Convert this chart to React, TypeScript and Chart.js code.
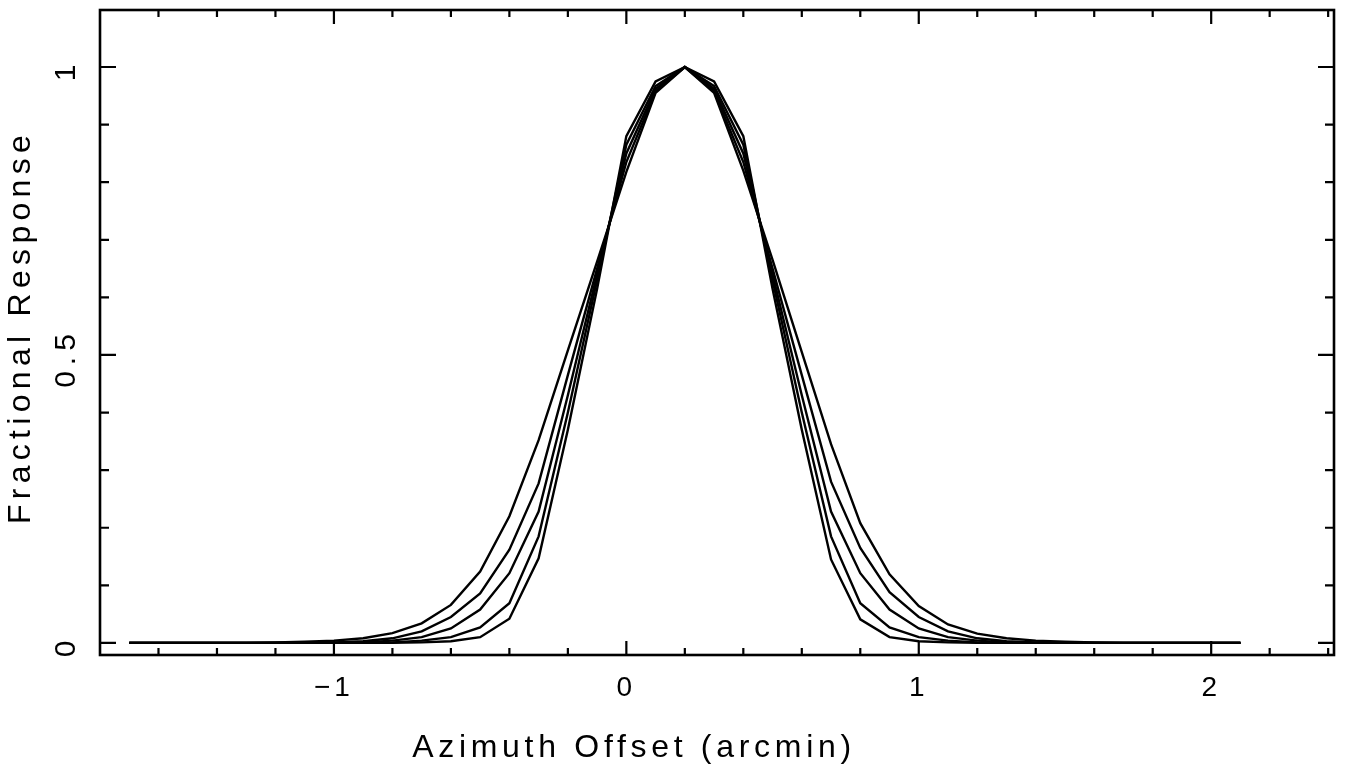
import React, { useEffect, useRef } from "react";
import { Chart, registerables } from "chart.js";

Chart.register(...registerables);

// Sample positions along azimuth (arcmin)
const azimuth = [
  -1.7, -1.6, -1.5, -1.4, -1.3, -1.2, -1.1, -1.0, -0.9, -0.8, -0.7, -0.6, -0.5,
  -0.4, -0.3, -0.2, -0.1, 0.0, 0.1, 0.2, 0.3, 0.4, 0.5, 0.6, 0.7, 0.8, 0.9, 1.0,
  1.1, 1.2, 1.3, 1.4, 1.5, 1.6, 1.7, 1.8, 1.9, 2.0, 2.1,
];

// Five beam response curves (widest to narrowest)
const responseA = [
  0, 0, 0, 0, 0, 0.001, 0.002, 0.004, 0.008, 0.017, 0.034, 0.066, 0.124,
  0.22, 0.352, 0.508, 0.662, 0.818, 0.955, 1.0, 0.955, 0.82, 0.665, 0.505, 0.345, 0.208, 0.119, 0.064,
  0.032, 0.016, 0.008, 0.004, 0.002, 0.001, 0, 0, 0, 0, 0,
];
const responseB = [
  0, 0, 0, 0, 0, 0, 0, 0.001, 0.003, 0.008, 0.02, 0.045, 0.086,
  0.162, 0.277, 0.465, 0.65, 0.835, 0.958, 1.0, 0.958, 0.835, 0.65, 0.465, 0.28, 0.165, 0.088, 0.045,
  0.02, 0.008, 0.003, 0.001, 0, 0, 0, 0, 0, 0, 0,
];
const responseC = [
  0, 0, 0, 0, 0, 0, 0, 0, 0.001, 0.004, 0.01, 0.025, 0.058,
  0.121, 0.228, 0.43, 0.64, 0.85, 0.962, 1.0, 0.962, 0.85, 0.64, 0.43, 0.228, 0.121, 0.058, 0.025,
  0.01, 0.004, 0.001, 0, 0, 0, 0, 0, 0, 0, 0,
];
const responseD = [
  0, 0, 0, 0, 0, 0, 0, 0, 0, 0.001, 0.004, 0.01, 0.027,
  0.069, 0.185, 0.4, 0.63, 0.865, 0.967, 1.0, 0.967, 0.865, 0.63, 0.4, 0.185, 0.069, 0.027, 0.01,
  0.004, 0.001, 0, 0, 0, 0, 0, 0, 0, 0, 0,
];
const responseE = [
  0, 0, 0, 0, 0, 0, 0, 0, 0, 0, 0.001, 0.003, 0.01,
  0.042, 0.147, 0.37, 0.615, 0.88, 0.975, 1.0, 0.975, 0.88, 0.615, 0.37, 0.145, 0.041, 0.01, 0.003,
  0.001, 0, 0, 0, 0, 0, 0, 0, 0, 0, 0,
];

const xMajorTicks = [-1, 0, 1, 2];
const xMinorTicks = [-1.6, -1.4, -1.2, -0.8, -0.6, -0.4, -0.2, 0.2, 0.4, 0.6, 0.8, 1.2, 1.4, 1.6, 1.8, 2.2, 2.4];
const xTickLabels = ["\u22121", "0", "1", "2"];
const yMajorTicks = [0, 0.5, 1];
const yMinorTicks = [0.1, 0.2, 0.3, 0.4, 0.6, 0.7, 0.8, 0.9];
const yTickLabels = ["0", "0.5", "1"];
const xTitle = "Azimuth Offset (arcmin)";
const yTitle = "Fractional Response";

const FONT = "'Liberation Sans', Arial, sans-serif";

const framePlugin = {
  id: "frameTicks",
  beforeDraw(chart: any) {
    (chart.ctx as any).letterSpacing = "4px";
  },
  afterDraw(chart: any) {
    const { ctx, chartArea, scales } = chart;
    const xs = scales.x;
    const ys = scales.y;
    const { left, right, top, bottom } = chartArea;
    ctx.save();
    ctx.strokeStyle = "#000";
    ctx.lineWidth = 2.6;
    ctx.strokeRect(left, top, right - left, bottom - top);
    ctx.lineWidth = 2.2;
    const xt = (vals: number[], len: number) => {
      vals.forEach((v) => {
        const px = xs.getPixelForValue(v);
        ctx.beginPath();
        ctx.moveTo(px, bottom);
        ctx.lineTo(px, bottom - len);
        ctx.moveTo(px, top);
        ctx.lineTo(px, top + len);
        ctx.stroke();
      });
    };
    const yt = (vals: number[], len: number) => {
      vals.forEach((v) => {
        const py = ys.getPixelForValue(v);
        ctx.beginPath();
        ctx.moveTo(left, py);
        ctx.lineTo(left + len, py);
        ctx.moveTo(right, py);
        ctx.lineTo(right - len, py);
        ctx.stroke();
      });
    };
    xt(xMajorTicks, 14);
    xt(xMinorTicks, 7);
    yt(yMajorTicks, 16);
    yt(yMinorTicks, 9);

    ctx.fillStyle = "#000";
    ctx.textAlign = "center";
    ctx.textBaseline = "middle";
    // y tick labels, rotated
    ctx.font = `30px ${FONT}`;
    (ctx as any).letterSpacing = "6px";
    yMajorTicks.forEach((v, i) => {
      const py = ys.getPixelForValue(v);
      ctx.save();
      ctx.translate(67, py + 3);
      ctx.rotate(-Math.PI / 2);
      ctx.fillText(yTickLabels[i], 0, 0);
      ctx.restore();
    });
    // axis titles
    ctx.font = `32px ${FONT}`;
    (ctx as any).letterSpacing = "4.7px";
    ctx.fillText(xTitle, 634, 748);
    (ctx as any).letterSpacing = "5.3px";
    ctx.save();
    ctx.translate(21, 327);
    ctx.rotate(-Math.PI / 2);
    ctx.fillText(yTitle, 0, 0);
    ctx.restore();
    (ctx as any).letterSpacing = "0px";
    ctx.restore();
  },
};

export default function App() {
  const ref = useRef<HTMLCanvasElement | null>(null);
  useEffect(() => {
    document.body.style.margin = "0";
    const series = [responseA, responseB, responseC, responseD, responseE];
    const chart = new Chart(ref.current as HTMLCanvasElement, {
      type: "line",
      data: {
        datasets: series.map((s, k) => ({
          label: `curve ${k + 1}`,
          data: azimuth.map((x, i) => ({ x, y: s[i] })),
          borderColor: "#000",
          borderWidth: 2.4,
          pointRadius: 0,
          tension: 0,
          fill: false,
        })),
      },
      options: {
        animation: false,
        responsive: false,
        layout: { padding: { left: 0, right: 13, top: 10, bottom: 0 } },
        plugins: { legend: { display: false }, tooltip: { enabled: false } },
        scales: {
          x: {
            type: "linear",
            min: -1.8,
            max: 2.42,
            grid: { display: false },
            border: { display: false },
            afterBuildTicks: (scale: any) => {
              scale.ticks = xMajorTicks.map((v) => ({ value: v }));
            },
            afterFit: (scale: any) => {
              scale.height = 112;
            },
            ticks: {
              color: "#000",
              padding: 8,
              font: { family: FONT, size: 28 },
              maxRotation: 0,
              autoSkip: false,
              callback: (v: any) => {
                const i = xMajorTicks.indexOf(Number(v));
                return i >= 0 ? xTickLabels[i] : "";
              },
            },
          },
          y: {
            type: "linear",
            min: -0.021,
            max: 1.099,
            grid: { display: false },
            border: { display: false },
            ticks: { display: false },
            afterFit: (scale: any) => {
              scale.width = 100;
            },
          },
        },
      } as any,
      plugins: [framePlugin],
    });
    return () => chart.destroy();
  }, []);
  return (
    <div style={{ width: 1347, height: 767, background: "#fff" }}>
      <canvas ref={ref} width={1347} height={767} style={{ display: "block" }} />
    </div>
  );
}
